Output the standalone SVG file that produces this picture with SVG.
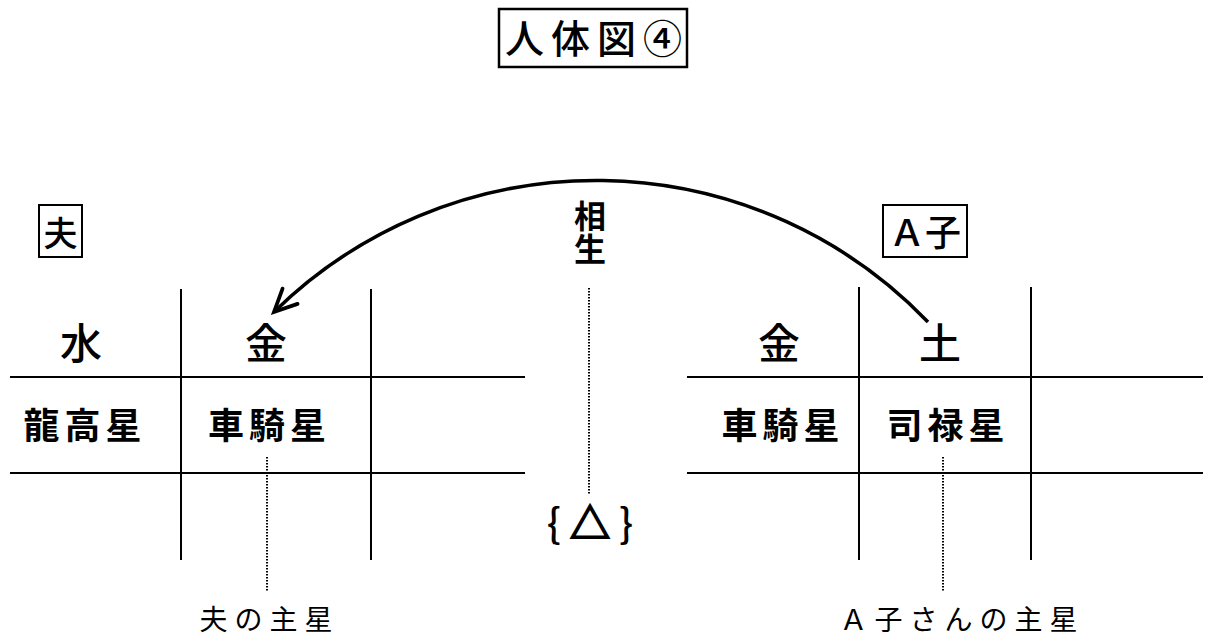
<svg xmlns="http://www.w3.org/2000/svg" width="1206" height="636" viewBox="0 0 1206 636">
<style>
text{font-family:"Noto Sans CJK JP","Noto Sans",sans-serif;fill:#000}
.grid line{stroke:#000;stroke-width:2}
.box{fill:none;stroke:#000;stroke-width:2.5}
.el{font-size:42px;text-anchor:middle;font-weight:500}
.star{font-size:36px;font-weight:bold;text-anchor:middle;letter-spacing:5px}
.lbl{font-size:28px;text-anchor:middle;letter-spacing:7px}
.dot{stroke:#000;stroke-width:2;stroke-dasharray:1.5 1.5;fill:none}
</style>
<defs>
<marker id="chev" markerUnits="userSpaceOnUse" markerWidth="30" markerHeight="30" viewBox="-24 -12 28 24" refX="0" refY="0" orient="auto" overflow="visible">
<path d="M-21 -10 L0 0 L-21 10" fill="none" stroke="#000" stroke-width="3.5" stroke-linecap="round" stroke-linejoin="miter"/>
</marker>
</defs>
<rect width="1206" height="636" fill="#fff"/>
<g id="title">
<rect class="box" x="499" y="9" width="188" height="58"/>
<text x="597" y="53" style="font-size:39px;text-anchor:middle;letter-spacing:7px;font-weight:500">人体図④</text>
</g>
<g id="husband-label">
<rect class="box" x="39" y="205" width="43" height="52" style="stroke-width:2"/>
<text x="60.5" y="246" style="font-size:34px;text-anchor:middle;font-weight:500">夫</text>
</g>
<g id="ako-label">
<rect class="box" x="883" y="205" width="84" height="52" style="stroke-width:2"/>
<text x="925" y="246" style="font-size:36px;text-anchor:middle;font-weight:500">Ａ子</text>
</g>
<g id="left-grid" class="grid">
<line x1="10" y1="377" x2="525" y2="377"/>
<line x1="10" y1="473" x2="525" y2="473"/>
<line x1="181" y1="289" x2="181" y2="560"/>
<line x1="371" y1="289" x2="371" y2="560"/>
</g>
<g id="right-grid" class="grid">
<line x1="687" y1="377" x2="1203" y2="377"/>
<line x1="687" y1="473" x2="1203" y2="473"/>
<line x1="859" y1="287" x2="859" y2="560"/>
<line x1="1031" y1="287" x2="1031" y2="560"/>
</g>
<g id="left-cells">
<text class="el" x="81" y="359">水</text>
<text class="el" x="266" y="359">金</text>
<text class="star" x="85" y="439">龍高星</text>
<text class="star" x="269.5" y="439">車騎星</text>
</g>
<g id="right-cells">
<text class="el" x="779" y="359">金</text>
<text class="el" x="940" y="359">土</text>
<text class="star" x="783" y="439">車騎星</text>
<text class="star" x="948" y="439">司禄星</text>
</g>
<g id="center">
<text x="590" y="200" style="font-size:32px;font-weight:bold;writing-mode:vertical-rl;letter-spacing:1px">相生</text>
<text x="590" y="538" style="font-size:40px;text-anchor:middle;font-weight:500">{ <tspan stroke="#000" stroke-width="2">△</tspan> }</text>
</g>
<g id="bottom-labels">
<text class="lbl" x="269.5" y="630">夫の主星</text>
<text class="lbl" x="962" y="630">Ａ子さんの主星</text>
</g>
<g id="connectors">
<path d="M928 322 A460 460 0 0 0 274 312" fill="none" stroke="#000" stroke-width="3.5" marker-end="url(#chev)"/>
<line class="dot" x1="589" y1="288" x2="589" y2="494"/>
<line class="dot" x1="267" y1="457" x2="267" y2="591"/>
<line class="dot" x1="943" y1="457" x2="943" y2="591"/>
</g>
</svg>
